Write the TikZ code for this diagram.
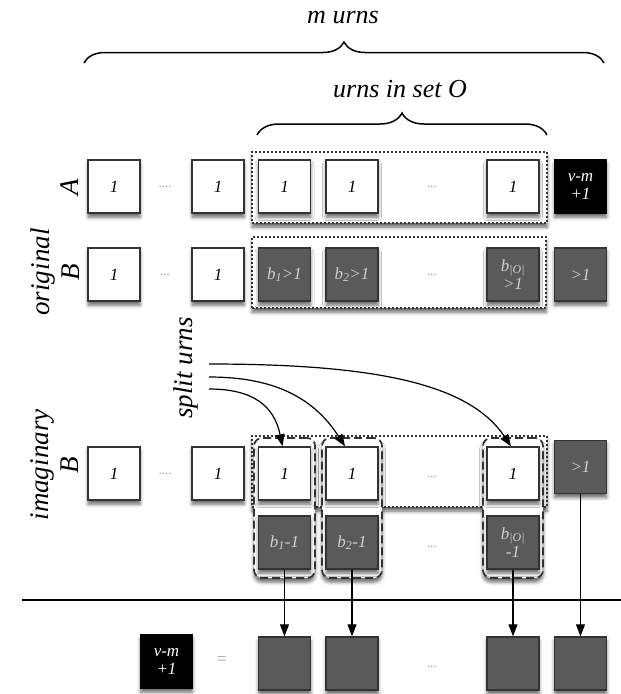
\documentclass[tikz,border=0pt]{standalone}
\usepackage{fontspec}
\setmainfont{Liberation Serif}
\usetikzlibrary{arrows.meta,decorations.pathreplacing,shadows.blur}
\definecolor{boxgray}{HTML}{5A5A5A}
\definecolor{edgec}{HTML}{333333}
\definecolor{lighttext}{HTML}{CFCFCF}
\definecolor{dotgray}{HTML}{9A9A9A}
\tikzset{
 shad/.style={blur shadow={shadow xshift=0pt, shadow yshift=-4pt, shadow blur radius=3.5pt, shadow opacity=60}},
 urn/.style={draw=edgec, line width=1.4pt, minimum width=52pt, minimum height=53pt, inner sep=0pt, shad, font=\fontsize{17}{18}\selectfont\itshape, align=center},
 wurn/.style={urn, fill=white},
 gurn/.style={urn, fill=boxgray, text=lighttext},
 kurn/.style={urn, fill=black, draw=black, text=white},
 dotbox/.style={draw=edgec, line width=1.7pt, dash pattern=on 1.7pt off 2.3pt, fill=white, shad, inner sep=0pt},
 splitbox/.style={draw=edgec, line width=1.7pt, dash pattern=on 8pt off 4pt, fill=white, rounded corners=8pt, shad, inner sep=0pt},
 dots/.style={text=dotgray, font=\fontsize{13}{14}\selectfont},
 lbl/.style={font=\fontsize{27}{30}\selectfont\itshape, rotate=90, align=center},
 ttl/.style={font=\fontsize{26}{28}\selectfont\itshape, anchor=base},
 arr/.style={line width=1.2pt, -{Triangle[length=12pt,width=9pt]}},
 brc/.style={decorate, decoration={brace, amplitude=#1}, line width=1.5pt},
}
\begin{document}
\begin{tikzpicture}[x=1pt,y=-1pt]
\useasboundingbox (0,0) rectangle (621,694);
% titles and braces
\node[ttl] (t1) at (343,23) {m urns};
\coordinate (b1l) at (84,63);
\coordinate (b1r) at (604,63);
\draw[brc=21pt] (b1l) -- (b1r);
\node[ttl] (t2) at (400,97) {urns in set O};
\coordinate (b2l) at (257,135);
\coordinate (b2r) at (547,135);
\draw[brc=22pt] (b2l) -- (b2r);
% row labels
\node[lbl] (la) at (70,187) {A};
\node[lbl] (lb) at (55,272) {original\\B};
\node[lbl] (li) at (55,465) {imaginary\\B};
\node[lbl] (ls) at (186,368) {split urns};
% containers
\node[dotbox, minimum width=295pt, minimum height=71pt] (ca) at (399.5,187.5) {};
\node[dotbox, minimum width=294pt, minimum height=71pt] (cb) at (399,272.5) {};
\node[dotbox, minimum width=295pt, minimum height=71pt] (ci) at (399.5,471.5) {};
\node[splitbox, minimum width=61pt, minimum height=140pt] (sp2) at (284.5,508) {};
\node[splitbox, minimum width=60pt, minimum height=140pt] (sp3) at (352,508) {};
\node[splitbox, minimum width=60pt, minimum height=140pt] (sp4) at (513,508) {};
% row A
\node[wurn] (a0) at (114,186.5) {1};
\node[dots] (ad1) at (165,187) {....};
\node[wurn] (a1) at (218,186.5) {1};
\node[wurn] (a2) at (284.5,186.5) {1};
\node[wurn] (a3) at (352,186.5) {1};
\node[dots] (ad2) at (432,187) {...};
\node[wurn] (a4) at (513,186.5) {1};
\node[kurn] (a5) at (580.5,186.5) {v-m\\+1};
% row B original
\node[wurn] (o0) at (114,274.5) {1};
\node[dots] (od1) at (165,275) {...};
\node[wurn] (o1) at (218,274.5) {1};
\node[gurn] (o2) at (284.5,274.5) {b\textsubscript{1}>1};
\node[gurn] (o3) at (352,274.5) {b\textsubscript{2}>1};
\node[dots] (od2) at (432,275) {...};
\node[gurn] (o4) at (513,274.5) {b\textsubscript{|O|}\\>1};
\node[gurn] (o5) at (580.5,274.5) {>1};
% row B imaginary
\node[wurn] (i0) at (114,473.5) {1};
\node[dots] (id1) at (165,474) {....};
\node[wurn] (i1) at (218,473.5) {1};
\node[wurn] (i2) at (284.5,473.5) {1};
\node[wurn] (i3) at (352,473.5) {1};
\node[dots] (id2) at (432,477) {...};
\node[wurn] (i4) at (513,473.5) {1};
\node[gurn] (i5) at (580.5,467) {>1};
\node[gurn] (l2) at (284.5,542.5) {b\textsubscript{1}-1};
\node[gurn] (l3) at (352,542.5) {b\textsubscript{2}-1};
\node[dots] (ld) at (432,547) {...};
\node[gurn] (l4) at (513,542.5) {b\textsubscript{|O|}\\-1};
% split arrows
\coordinate (s1) at (209,364);
\coordinate (s2) at (209,377);
\coordinate (s3) at (209,389);
\draw[arr] (s1) .. controls (380,364) and (470,385) .. ([xshift=-2pt]i4.north);
\draw[arr] (s2) .. controls (270,377) and (312,395) .. ([xshift=-7pt]i3.north);
\draw[arr] (s3) .. controls (252,389) and (274,405) .. ([xshift=-2pt]i2.north);
% separator
\coordinate (hl) at (22,600);
\coordinate (hr) at (621,600);
\draw[line width=2.5pt] (hl) -- (hr);
% bottom row
\node[kurn] (bk) at (166.5,661.5) {v-m\\+1};
\node[text=dotgray, font=\fontsize{17}{18}\selectfont] (eq) at (222,661) {=};
\node[gurn] (f2) at (284.5,663.5) {};
\node[gurn] (f3) at (352,663.5) {};
\node[dots] (fd) at (432,667) {...};
\node[gurn] (f4) at (513,663.5) {};
\node[gurn] (f5) at (580.5,663.5) {};
\draw[arr] (l2) -- (f2);
\draw[arr] (l3) -- (f3);
\draw[arr] (l4) -- (f4);
\draw[arr] (i5) -- (f5);
\end{tikzpicture}
\end{document}
